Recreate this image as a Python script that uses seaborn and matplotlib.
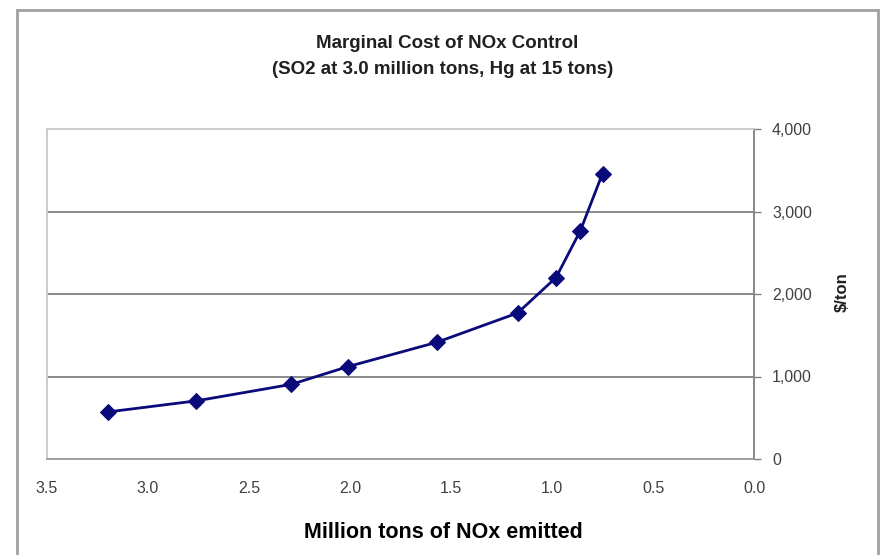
import matplotlib
matplotlib.use("Agg")
import matplotlib.pyplot as plt
import seaborn as sns
import pandas as pd
from matplotlib.patches import Rectangle
from matplotlib.ticker import FuncFormatter

# Data
nox_emitted = [3.20, 2.76, 2.29, 2.01, 1.57, 1.17, 0.98, 0.86, 0.75]
marginal_cost = [570, 705, 905, 1120, 1415, 1770, 2200, 2765, 3460]
x_ticks = [3.5, 3.0, 2.5, 2.0, 1.5, 1.0, 0.5, 0.0]
y_ticks = [0, 1000, 2000, 3000, 4000]

title_line1 = "Marginal Cost of NOx Control"
title_line2 = "(SO2 at 3.0 million tons, Hg at 15 tons)"
x_label = "Million tons of NOx emitted"
y_label = "$/ton"

df = pd.DataFrame({"nox": nox_emitted, "cost": marginal_cost})

sns.set_theme(style="white")
plt.rcParams["font.family"] = ["Liberation Sans", "DejaVu Sans"]

fig = plt.figure(figsize=(8.84, 5.55), dpi=100)
ax = fig.add_axes([47 / 884, 1 - 459 / 555, (754 - 47) / 884, (459 - 129) / 555])

sns.lineplot(data=df, x="nox", y="cost", ax=ax, color="#0a0a7a", linewidth=2.0,
             marker="D", markersize=8, markeredgecolor="#0a0a7a",
             markerfacecolor="#0a0a7a", sort=False)

ax.set_xlim(3.5, 0.0)
ax.set_ylim(0, 4000)
ax.set_xticks(x_ticks)
ax.set_yticks(y_ticks)
ax.xaxis.set_major_formatter(FuncFormatter(lambda v, p: f"{v:.1f}"))
ax.yaxis.set_major_formatter(FuncFormatter(lambda v, p: f"{int(v):,}"))

ax.yaxis.tick_right()
ax.yaxis.set_label_position("right")
ax.tick_params(axis="y", which="major", direction="out", length=5, width=1,
               color="#808080", labelsize=11.5, labelcolor="#404040", pad=8,
               left=False, right=True)
ax.tick_params(axis="x", which="major", direction="out", length=5, width=1,
               color="#808080", labelsize=11.5, labelcolor="#404040", pad=11)

for yv in [1000, 2000, 3000]:
    ax.axhline(yv, color="#808080", linewidth=1.3, zorder=0)

ax.spines["left"].set_color("#c8c8c8")
ax.spines["top"].set_color("#c8c8c8")
ax.spines["right"].set_color("#808080")
ax.spines["bottom"].set_color("#999999")
for s in ax.spines.values():
    s.set_linewidth(1.3)

ax.set_xlabel("")
ax.set_ylabel("")

fig.text(842 / 884, 1 - 292 / 555, y_label, rotation=90, ha="center", va="center",
         fontsize=12, fontweight="bold", color="#202020")
fig.text(447 / 884, 1 - 43 / 555, title_line1, ha="center", va="center",
         fontsize=13.5, fontweight="bold", color="#202020")
fig.text(443 / 884, 1 - 69 / 555, title_line2, ha="center", va="center",
         fontsize=13.5, fontweight="bold", color="#202020")
fig.text(443 / 884, 1 - 533 / 555, x_label, ha="center", va="center",
         fontsize=15.5, fontweight="bold", color="black")

frame = Rectangle((17 / 884, -0.1), (878 - 17) / 884, 1.1 - 10 / 555,
                  transform=fig.transFigure, fill=False, edgecolor="#a0a0a0",
                  linewidth=2, clip_on=False)
fig.patches.append(frame)

fig.savefig("out.png", dpi=100)
